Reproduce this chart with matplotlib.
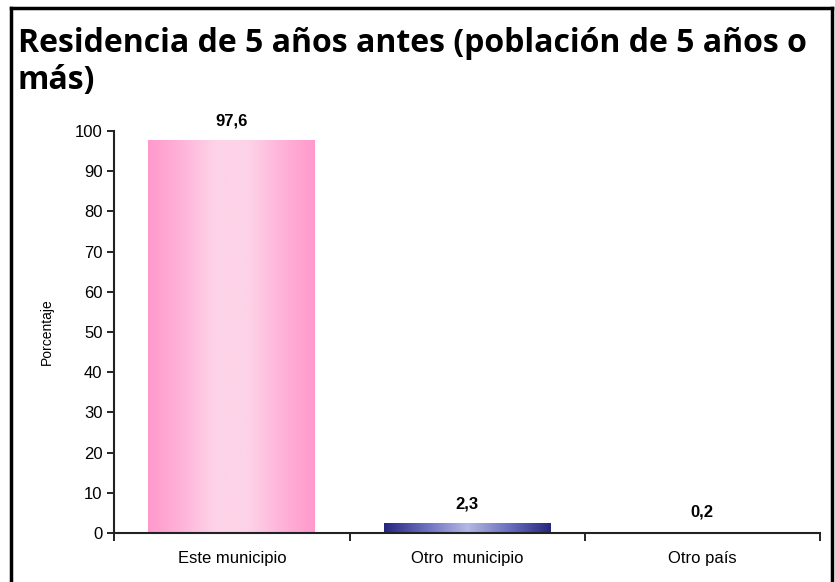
import numpy as np
import matplotlib
matplotlib.use("Agg")
import matplotlib.pyplot as plt
from matplotlib.colors import LinearSegmentedColormap
from matplotlib import font_manager

# --- datos ---
categorias = ["Este municipio", "Otro  municipio", "Otro país"]
porcentajes = [97.6, 2.3, 0.2]
etiquetas = ["97,6", "2,3", "0,2"]
ticks_y = list(range(0, 101, 10))

nombres = {f.name for f in font_manager.fontManager.ttflist}
narrow = "Liberation Sans Narrow" if "Liberation Sans Narrow" in nombres else "Liberation Sans"
plt.rcParams["font.family"] = [narrow, "DejaVu Sans"]

# degradados horizontales (borde - centro - borde)
rosa = LinearSegmentedColormap.from_list("rosa", ["#ff99cc", "#ffb3d9", "#fdd3e8", "#fdd3e8", "#ffb3d9", "#ff99cc"])
azul = LinearSegmentedColormap.from_list("azul", ["#26267f", "#6a6fbf", "#b4b8e4", "#6a6fbf", "#26267f"])
mapas = [rosa, azul, azul]

fig = plt.figure(figsize=(8.35, 5.82), dpi=100)
ax = fig.add_axes([0.137, 0.084, 0.845, 0.691])

x = np.arange(len(categorias))
barras = ax.bar(x, porcentajes, width=0.71, color="none", edgecolor="none", zorder=2)

grad = np.linspace(0, 1, 256).reshape(1, -1)
for b, cmap in zip(barras, mapas):
    x0, w, h = b.get_x(), b.get_width(), b.get_height()
    ax.imshow(grad, cmap=cmap, aspect="auto", extent=[x0, x0 + w, 0, h],
              interpolation="bicubic", zorder=2)

for b, txt in zip(barras, etiquetas):
    ax.annotate(txt, (b.get_x() + b.get_width() / 2, b.get_height()),
                xytext=(0, 9), textcoords="offset points",
                ha="center", va="bottom", fontsize=12, fontweight="bold")

ax.set_xlim(-0.5, len(categorias) - 0.5)
ax.set_ylim(0, 100)
ax.set_yticks(ticks_y)
ax.tick_params(axis="y", labelsize=12, length=5, width=1.2, direction="out")
ax.set_xticks(x)
ax.set_xticklabels(categorias, fontsize=12)
ax.tick_params(axis="x", length=0, pad=13)
# marcas entre categorias
ax.set_xticks(np.arange(-0.5, len(categorias)), minor=True)
ax.tick_params(axis="x", which="minor", length=6, width=1.2, direction="out")

for s in ["top", "right"]:
    ax.spines[s].set_visible(False)
for s in ["left", "bottom"]:
    ax.spines[s].set_linewidth(1.5)
    ax.spines[s].set_color("#222222")

ax.set_ylabel("Porcentaje", fontsize=10, labelpad=15)

titulo = "Residencia de 5 años antes (población de 5 años o\nmás)"
fig.text(0.021, 1 - 27 / 582, titulo, family=["Open Sans", "DejaVu Sans"],
         fontsize=23, fontweight="bold", ha="left", va="top", linespacing=1.18)

# marco de la figura
fig.add_artist(plt.Line2D([0.013, 0.013], [0, 0.987], color="black", lw=2.5))
fig.add_artist(plt.Line2D([0.013, 0.997], [0.987, 0.987], color="black", lw=2.5))
fig.add_artist(plt.Line2D([0.997, 0.997], [0, 0.987], color="black", lw=2.5))

fig.savefig("out.png", dpi=100)
